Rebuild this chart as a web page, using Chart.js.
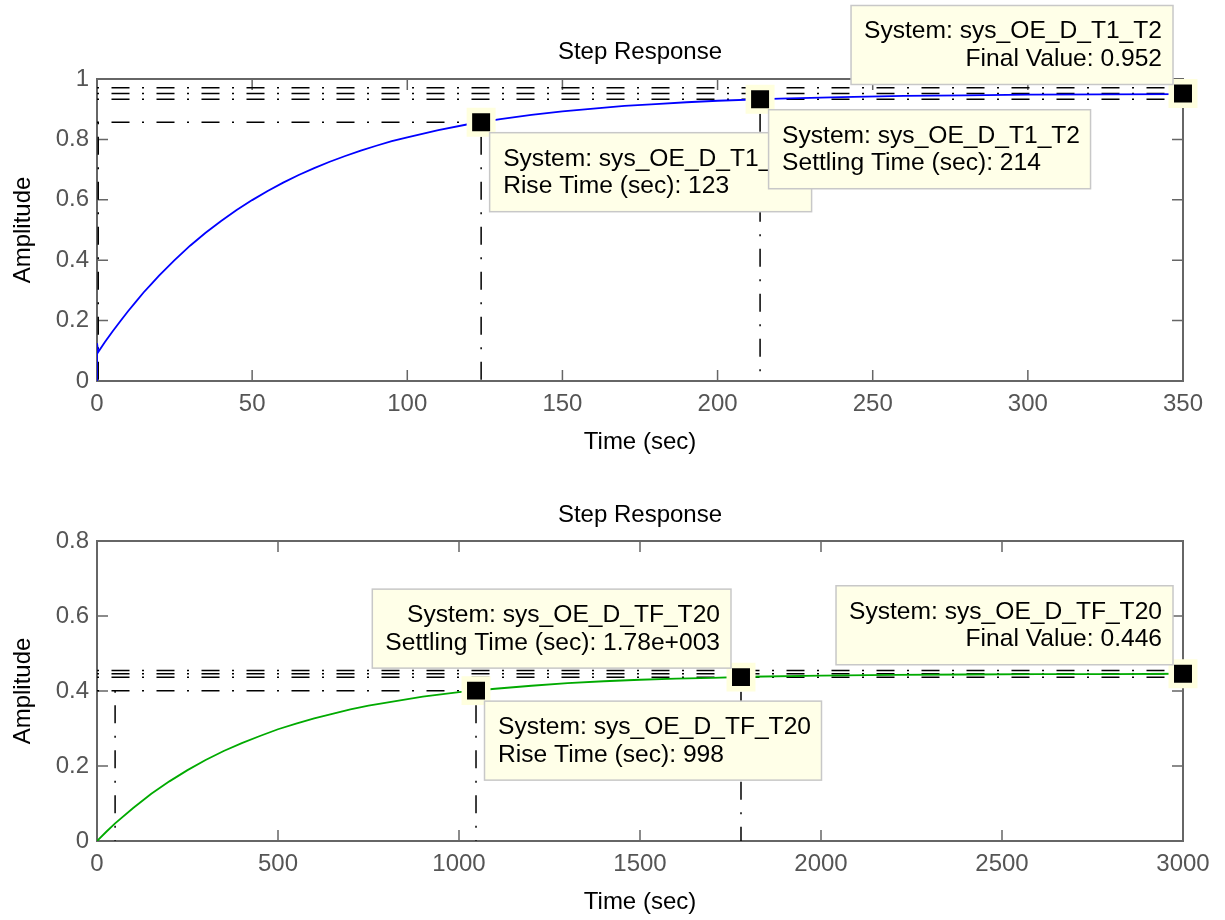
<!DOCTYPE html>
<html><head><meta charset="utf-8">
<script src="https://cdn.jsdelivr.net/npm/chart.js@4.4.0/dist/chart.umd.min.js"></script>
<style>
html,body{margin:0;padding:0;background:#fff;}
#wrap{position:relative;width:1225px;height:920px;}
canvas{position:absolute;left:0;}
#c1{top:0;} #c2{top:460px;}
</style></head><body>
<div id="wrap"><canvas id="c1" width="1225" height="460"></canvas><canvas id="c2" width="1225" height="460"></canvas></div>
<script>
// ---------- Top plot data (sys_OE_D_T1_T2) ----------
const topTime = [0, 0, 0.4, 2.5, 5, 7.5, 10, 12.5, 15, 17.5, 20, 25, 30, 35, 40, 45, 50, 55, 60, 65, 70, 75, 80, 85, 90, 95, 100, 110, 120, 130, 140, 150, 160, 170, 180, 190, 200, 220, 240, 260, 280, 300, 325, 350];
const topAmp  = [0, 0.125, 0.096, 0.128, 0.164, 0.198, 0.231, 0.262, 0.293, 0.321, 0.349, 0.400, 0.448, 0.491, 0.530, 0.566, 0.599, 0.629, 0.657, 0.682, 0.705, 0.726, 0.745, 0.763, 0.779, 0.794, 0.807, 0.831, 0.851, 0.867, 0.881, 0.893, 0.902, 0.911, 0.917, 0.923, 0.928, 0.935, 0.940, 0.944, 0.946, 0.948, 0.949, 0.950];
const topXTicks = [0, 50, 100, 150, 200, 250, 300, 350];
const topXLabels = ['0', '50', '100', '150', '200', '250', '300', '350'];
const topYTicks = [0, 0.2, 0.4, 0.6, 0.8, 1];
const topYLabels = ['0', '0.2', '0.4', '0.6', '0.8', '1'];
const topMarkT = [123.8, 213.7, 350];
const topMarkY = [0.857, 0.933, 0.952];
const topFinal = 0.952, topBandHi = 0.971, topBandLo = 0.933;
const topRiseLevel = 0.857, topT10 = 0.4, topT90 = 123.8, topTs = 213.7, topTsY = 0.933;
const topTips = [
  ['System: sys_OE_D_T1_T2', 'Rise Time (sec): 123'],
  ['System: sys_OE_D_T1_T2', 'Settling Time (sec): 214'],
  ['System: sys_OE_D_T1_T2', 'Final Value: 0.952']
];

// ---------- Bottom plot data (sys_OE_D_TF_T20) ----------
const botTime = [0, 25, 50, 100, 150, 200, 250, 300, 350, 400, 450, 500, 550, 600, 650, 700, 750, 800, 850, 900, 950, 1000, 1100, 1200, 1300, 1400, 1500, 1600, 1700, 1800, 2000, 2200, 2400, 2600, 2800, 3000];
const botAmp  = [0, 0.024, 0.047, 0.088, 0.126, 0.159, 0.189, 0.216, 0.240, 0.261, 0.280, 0.298, 0.313, 0.327, 0.339, 0.351, 0.361, 0.369, 0.377, 0.385, 0.391, 0.397, 0.406, 0.414, 0.421, 0.426, 0.430, 0.433, 0.435, 0.438, 0.441, 0.443, 0.444, 0.445, 0.445, 0.446];
const botXTicks = [0, 500, 1000, 1500, 2000, 2500, 3000];
const botXLabels = ['0', '500', '1000', '1500', '2000', '2500', '3000'];
const botYTicks = [0, 0.2, 0.4, 0.6, 0.8];
const botYLabels = ['0', '0.2', '0.4', '0.6', '0.8'];
const botMarkT = [1047, 1779, 3000];
const botMarkY = [0.401, 0.437, 0.446];
const botFinal = 0.446, botBandHi = 0.455, botBandLo = 0.437;
const botRiseLevel = 0.401, botT10 = 50, botT90 = 1047, botTs = 1779, botTsY = 0.437;
const botTips = [
  ['System: sys_OE_D_TF_T20', 'Rise Time (sec): 998'],
  ['System: sys_OE_D_TF_T20', 'Settling Time (sec): 1.78e+003'],
  ['System: sys_OE_D_TF_T20', 'Final Value: 0.446']
];

// ---------- rendering ----------
const FONT = '"Liberation Sans", Arial, Helvetica, sans-serif';

const framePlugin = {
  id: 'frame',
  beforeDatasetsDraw(chart) {
    const {ctx, chartArea: a} = chart;
    const x = chart.scales.x, y = chart.scales.y;
    const L = 11;
    ctx.save();
    ctx.strokeStyle = '#666666';
    ctx.lineWidth = 1.5;
    ctx.beginPath();
    x.ticks.forEach(t => {
      const px = x.getPixelForValue(t.value);
      ctx.moveTo(px, a.bottom); ctx.lineTo(px, a.bottom - L);
      ctx.moveTo(px, a.top); ctx.lineTo(px, a.top + L);
    });
    y.ticks.forEach(t => {
      const py = y.getPixelForValue(t.value);
      ctx.moveTo(a.left, py); ctx.lineTo(a.left + L, py);
      ctx.moveTo(a.right, py); ctx.lineTo(a.right - L, py);
    });
    ctx.stroke();
    ctx.lineWidth = 2;
    ctx.strokeRect(a.left, a.top, a.right - a.left, a.bottom - a.top);
    ctx.restore();
  }
};

function tipPlugin(tips) {
  return {
    id: 'tips',
    afterDatasetsDraw(chart) {
      const ctx = chart.ctx;
      const meta = chart.getDatasetMeta(0);
      ctx.save();
      ctx.font = '24.6px ' + FONT;
      tips.forEach(tp => {
        const pt = meta.data[tp.index];
        const mx = pt.x, my = pt.y;
        const w = Math.max(...tp.lines.map(s => ctx.measureText(s).width)) + 24;
        const h = 79;
        let left, top;
        if (tp.place === 'br') { left = mx + 8.5; top = my + 10.5; }
        else { left = mx - 10 - w; top = my - 9 - h; }
        ctx.fillStyle = 'rgb(255,255,232)';
        ctx.fillRect(left, top, w, h);
        ctx.strokeStyle = '#c8c8c8';
        ctx.lineWidth = 1.5;
        ctx.strokeRect(left, top, w, h);
        ctx.fillStyle = '#000';
        ctx.textBaseline = 'alphabetic';
        ctx.textAlign = tp.align;
        const tx = tp.align === 'left' ? left + 13.5 : left + w - 11;
        ctx.fillText(tp.lines[0], tx, top + 33);
        ctx.fillText(tp.lines[1], tx, top + 60.5);
      });
      ctx.restore();
    }
  };
}

function refDs(points) {
  return {
    data: points, borderColor: '#000', borderWidth: 1.5,
    borderDash: [18, 12.5, 2, 12.5], borderDashOffset: 30.5,
    pointRadius: 0, fill: false, tension: 0, order: 2
  };
}

function makeChart(id, d) {
  const xMin = d.xTicks[0], xMax = d.xTicks[d.xTicks.length - 1];
  const refs = [
    [{x: xMin, y: d.bandHi}, {x: xMax, y: d.bandHi}],
    [{x: xMin, y: d.final}, {x: xMax, y: d.final}],
    [{x: xMin, y: d.bandLo}, {x: xMax, y: d.bandLo}],
    [{x: xMin, y: d.rise}, {x: d.t90, y: d.rise}],
    [{x: d.t10, y: d.rise}, {x: d.t10, y: 0}],
    [{x: d.t90, y: d.rise}, {x: d.t90, y: 0}],
    [{x: d.ts, y: d.tsY}, {x: d.ts, y: 0}]
  ];
  return new Chart(document.getElementById(id), {
    type: 'line',
    data: {
      datasets: [
        {
          type: 'scatter',
          data: d.markT.map((t, i) => ({x: t, y: d.markY[i]})),
          pointStyle: 'rect', pointRadius: 16.6, pointHoverRadius: 16.6,
          pointBackgroundColor: '#000', pointBorderColor: 'rgb(255,255,222)',
          pointBorderWidth: 5.5, showLine: false, clip: false, order: 0
        },
        {
          data: d.time.map((t, i) => ({x: t, y: d.amp[i]})),
          borderColor: d.color, borderWidth: 1.8, pointRadius: 0,
          tension: 0, fill: false, order: 1
        },
        ...refs.map(refDs)
      ]
    },
    options: {
      responsive: false, animation: false, devicePixelRatio: 1,
      events: [],
      layout: {padding: {left: 0, right: 42, top: 0, bottom: 0}},
      plugins: {
        legend: {display: false},
        tooltip: {enabled: false},
        title: {
          display: true, fullSize: false, text: 'Step Response', color: '#000',
          font: {family: FONT, size: 24, weight: 'normal'},
          padding: {top: d.titleTop, bottom: d.titleBottom}
        }
      },
      scales: {
        x: {
          type: 'linear', min: xMin, max: xMax,
          grid: {display: false, drawTicks: false}, border: {display: false},
          afterBuildTicks: s => { s.ticks = d.xTicks.map(v => ({value: v})); },
          afterFit: s => { s.height = 79; },
          ticks: {autoSkip: false, maxRotation: 0, padding: 8.6, color: '#555',
                  font: {family: FONT, size: 24}, callback: (v, i) => d.xLabels[i]},
          title: {display: true, text: 'Time (sec)', color: '#000',
                  font: {family: FONT, size: 24}, padding: {top: 0, bottom: 3.6}}
        },
        y: {
          type: 'linear', min: d.yTicks[0], max: d.yTicks[d.yTicks.length - 1],
          grid: {display: false, drawTicks: false}, border: {display: false},
          afterBuildTicks: s => { s.ticks = d.yTicks.map(v => ({value: v})); },
          afterFit: s => { s.width = 97; },
          ticks: {autoSkip: false, padding: 8, color: '#555',
                  font: {family: FONT, size: 24}, callback: (v, i) => d.yLabels[i]},
          title: {display: true, text: 'Amplitude', color: '#000',
                  font: {family: FONT, size: 24}, padding: {top: 8.6, bottom: 0}}
        }
      }
    },
    plugins: [framePlugin, tipPlugin(d.tips)]
  });
}

makeChart('c1', {
  time: topTime, amp: topAmp, color: '#0000ff',
  xTicks: topXTicks, xLabels: topXLabels, yTicks: topYTicks, yLabels: topYLabels,
  markT: topMarkT, markY: topMarkY,
  final: topFinal, bandHi: topBandHi, bandLo: topBandLo,
  rise: topRiseLevel, t10: topT10, t90: topT90, ts: topTs, tsY: topTsY,
  titleTop: 38, titleBottom: 12.2,
  tips: [
    {index: 0, lines: topTips[0], align: 'left', place: 'br'},
    {index: 1, lines: topTips[1], align: 'left', place: 'br'},
    {index: 2, lines: topTips[2], align: 'right', place: 'tl'}
  ]
});

makeChart('c2', {
  time: botTime, amp: botAmp, color: '#00aa00',
  xTicks: botXTicks, xLabels: botXLabels, yTicks: botYTicks, yLabels: botYLabels,
  markT: botMarkT, markY: botMarkY,
  final: botFinal, bandHi: botBandHi, bandLo: botBandLo,
  rise: botRiseLevel, t10: botT10, t90: botT90, ts: botTs, tsY: botTsY,
  titleTop: 41, titleBottom: 11.2,
  tips: [
    {index: 1, lines: botTips[1], align: 'right', place: 'tl'},
    {index: 0, lines: botTips[0], align: 'left', place: 'br'},
    {index: 2, lines: botTips[2], align: 'right', place: 'tl'}
  ]
});
</script>
</body></html>
